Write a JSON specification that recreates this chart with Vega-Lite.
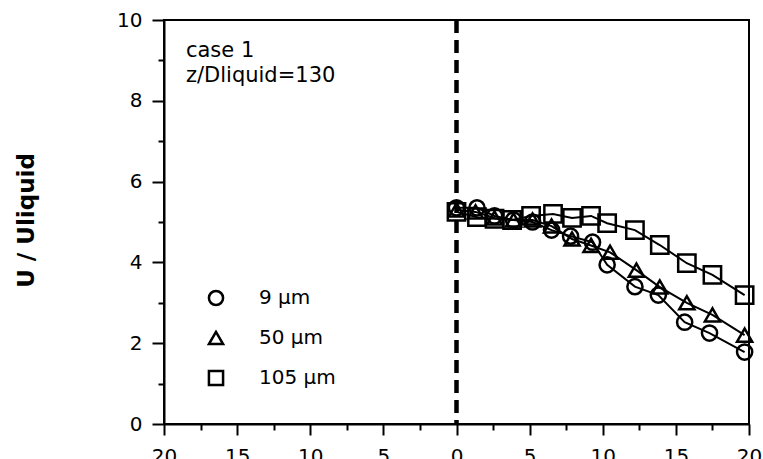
{
  "$schema": "https://vega.github.io/schema/vega-lite/v6.json",
  "autosize": "none",
  "width": 585,
  "height": 404,
  "padding": {"left": 164, "top": 20, "right": 14, "bottom": 35},
  "background": "white",
  "config": {
    "font": "DejaVu Sans",
    "view": {"stroke": "black", "strokeWidth": 2},
    "axis": {"domainColor": "black", "domainWidth": 2, "tickColor": "black", "tickWidth": 2, "labelColor": "black", "labelFont": "DejaVu Sans", "grid": false}
  },
  "datasets": {
    "series": [
      {"x": 0, "u": 5.35, "d": "9 µm"},
      {"x": 1.4, "u": 5.35, "d": "9 µm"},
      {"x": 2.6, "u": 5.15, "d": "9 µm"},
      {"x": 3.9, "u": 5.05, "d": "9 µm"},
      {"x": 5.2, "u": 5.0, "d": "9 µm"},
      {"x": 6.5, "u": 4.8, "d": "9 µm"},
      {"x": 7.8, "u": 4.65, "d": "9 µm"},
      {"x": 9.3, "u": 4.5, "d": "9 µm"},
      {"x": 10.3, "u": 3.94, "d": "9 µm"},
      {"x": 12.2, "u": 3.4, "d": "9 µm"},
      {"x": 13.8, "u": 3.19, "d": "9 µm"},
      {"x": 15.6, "u": 2.52, "d": "9 µm"},
      {"x": 17.3, "u": 2.25, "d": "9 µm"},
      {"x": 19.7, "u": 1.78, "d": "9 µm"},
      {"x": 0, "u": 5.3, "d": "50 µm"},
      {"x": 1.3, "u": 5.25, "d": "50 µm"},
      {"x": 2.6, "u": 5.1, "d": "50 µm"},
      {"x": 3.9, "u": 5.05, "d": "50 µm"},
      {"x": 5.2, "u": 5.05, "d": "50 µm"},
      {"x": 6.5, "u": 4.9, "d": "50 µm"},
      {"x": 7.9, "u": 4.58, "d": "50 µm"},
      {"x": 9.2, "u": 4.42, "d": "50 µm"},
      {"x": 10.5, "u": 4.25, "d": "50 µm"},
      {"x": 12.3, "u": 3.81, "d": "50 µm"},
      {"x": 13.9, "u": 3.39, "d": "50 µm"},
      {"x": 15.75, "u": 3.0, "d": "50 µm"},
      {"x": 17.5, "u": 2.7, "d": "50 µm"},
      {"x": 19.7, "u": 2.2, "d": "50 µm"},
      {"x": 0, "u": 5.25, "d": "105 µm"},
      {"x": 1.4, "u": 5.12, "d": "105 µm"},
      {"x": 2.6, "u": 5.08, "d": "105 µm"},
      {"x": 3.8, "u": 5.05, "d": "105 µm"},
      {"x": 5.1, "u": 5.15, "d": "105 µm"},
      {"x": 6.6, "u": 5.2, "d": "105 µm"},
      {"x": 7.9, "u": 5.1, "d": "105 µm"},
      {"x": 9.2, "u": 5.15, "d": "105 µm"},
      {"x": 10.3, "u": 4.97, "d": "105 µm"},
      {"x": 12.2, "u": 4.8, "d": "105 µm"},
      {"x": 13.9, "u": 4.43, "d": "105 µm"},
      {"x": 15.75, "u": 3.98, "d": "105 µm"},
      {"x": 17.5, "u": 3.69, "d": "105 µm"},
      {"x": 19.7, "u": 3.19, "d": "105 µm"}
    ],
    "notes": [
      {"x": -18.5, "u": 9.08, "label": "case 1"},
      {"x": -18.5, "u": 8.47, "label": "z/Dliquid=130"}
    ],
    "zero": [{"x": 0}]
  },
  "encoding": {
    "x": {"field": "x", "type": "quantitative", "scale": {"domain": [-20, 20], "nice": false, "zero": false},
      "axis": {"title": null, "values": [-20, -17.5, -15, -12.5, -10, -7.5, -5, -2.5, 0, 2.5, 5, 7.5, 10, 12.5, 15, 17.5, 20],
        "labelExpr": "datum.value % 5 === 0 ? format(abs(datum.value), 'd') : ''",
        "tickSize": {"condition": {"test": "datum.value % 5 === 0", "value": 11}, "value": 6},
        "labelFontSize": 20, "labelPadding": 11, "labelFlush": false, "labelOverlap": false}},
    "y": {"field": "u", "type": "quantitative", "scale": {"domain": [0, 10], "nice": false},
      "axis": {"title": "U  /  Uliquid", "titleFontSize": 23, "titleFontWeight": "bold", "titleColor": "black", "titleFont": "DejaVu Sans",
        "titleAngle": -90, "titleX": -138, "titleY": 200, "titleAlign": "center", "titleBaseline": "middle",
        "values": [0, 1, 2, 3, 4, 5, 6, 7, 8, 9, 10],
        "labelExpr": "datum.value % 2 === 0 ? format(datum.value, 'd') : ''",
        "tickSize": {"condition": {"test": "datum.value % 2 === 0", "value": 12}, "value": 6},
        "labelFontSize": 20, "labelPadding": 10, "labelOverlap": false}}
  },
  "layer": [
    {
      "data": {"name": "zero"},
      "mark": {"type": "rule", "color": "black", "strokeWidth": 4.5, "strokeDash": [13, 7]},
      "encoding": {"x": {"field": "x", "type": "quantitative"}, "y": null}
    },
    {
      "data": {"name": "series"},
      "mark": {"type": "line", "color": "black", "strokeWidth": 2},
      "encoding": {"detail": {"field": "d", "type": "nominal"}}
    },
    {
      "data": {"name": "series"},
      "mark": {"type": "point", "filled": false, "color": "black", "strokeWidth": 2.5, "opacity": 1},
      "encoding": {
        "shape": {"field": "d", "type": "nominal",
          "scale": {"domain": ["9 µm", "50 µm", "105 µm"], "range": ["circle", "triangle-up", "square"]},
          "legend": {"title": null, "orient": "none", "legendX": 42, "legendY": 268, "padding": 0,
            "symbolSize": 200, "symbolStrokeWidth": 2.5, "symbolStrokeColor": "black", "symbolFillColor": "transparent",
            "labelFontSize": 20, "labelFont": "DejaVu Sans", "labelColor": "black", "labelOffset": 33, "rowPadding": 15}},
        "size": {"condition": {"test": "datum.d === '105 µm'", "value": 300}, "value": 230}
      }
    },
    {
      "data": {"name": "notes"},
      "mark": {"type": "text", "align": "left", "baseline": "alphabetic", "fontSize": 21, "color": "black", "font": "DejaVu Sans"},
      "encoding": {"text": {"field": "label", "type": "nominal"}}
    }
  ]
}
